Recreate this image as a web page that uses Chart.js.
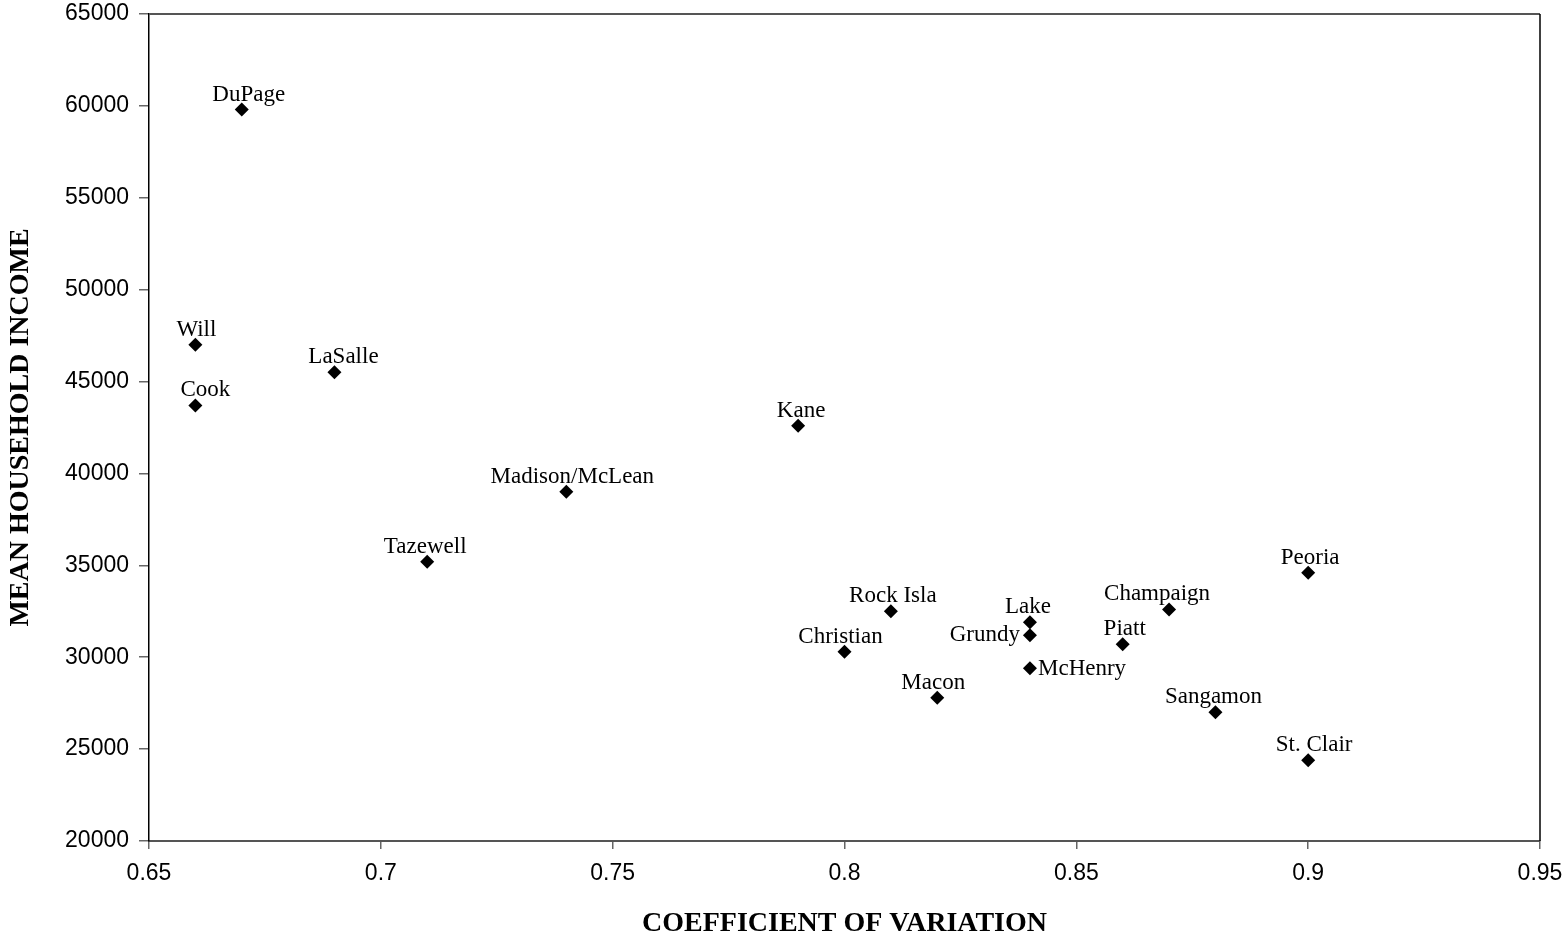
<!DOCTYPE html>
<html>
<head>
<meta charset="utf-8">
<script src="https://cdn.jsdelivr.net/npm/chart.js@4/dist/chart.umd.min.js"></script>
<style>
  html, body { margin: 0; padding: 0; background: #fff; }
  #wrap { width: 1564px; height: 938px; }
</style>
</head>
<body>
<div id="wrap"><canvas id="scatter"></canvas></div>
<script>
// County data
const counties = ['DuPage', 'Will', 'Cook', 'LaSalle', 'Tazewell', 'Madison/McLean', 'Kane',
    'Christian', 'Rock Isla', 'Macon', 'Lake', 'Grundy', 'McHenry', 'Piatt',
    'Champaign', 'Sangamon', 'Peoria', 'St. Clair'];
const coefVariation = [0.67, 0.66, 0.66, 0.69, 0.71, 0.74, 0.79,
    0.80, 0.81, 0.82, 0.84, 0.84, 0.84, 0.86,
    0.87, 0.88, 0.90, 0.90];
const meanIncome = [59800, 47000, 43700, 45500, 35200, 39000, 42600,
    30300, 32500, 27800, 31900, 31200, 29400, 30700,
    32600, 27000, 34600, 24400];
// where the name sits relative to its marker
const labelSide = ['above', 'above', 'above', 'above', 'above', 'above', 'above',
    'above', 'above', 'above', 'above', 'left', 'right', 'above',
    'above', 'above', 'above', 'above'];
// small sideways nudges of the names (px), as in the original figure
const labelNudge = [7, 1, 10, 9, -2, 6, 3, -4, 2, -4, -2, 0, 0, 2, -12, -2, 2, 6];

const xMin = 0.65, xMax = 0.95, xStep = 0.05;
const yMin = 20000, yMax = 65000, yStep = 5000;

const points = coefVariation.map(function(x, i) {
    return { x: x, y: meanIncome[i] };
});

// names next to the markers
const pointLabels = {
    id: 'pointLabels',
    afterDatasetsDraw: function(chart) {
        const ctx = chart.ctx;
        const meta = chart.getDatasetMeta(0);
        ctx.save();
        ctx.font = '23px "Liberation Serif", "Times New Roman", serif';
        ctx.fillStyle = '#000';
        ctx.textBaseline = 'alphabetic';
        meta.data.forEach(function(el, i) {
            const side = labelSide[i];
            if (side === 'left') {
                ctx.textAlign = 'right';
                ctx.fillText(counties[i], el.x - 10, el.y + 6);
            } else if (side === 'right') {
                ctx.textAlign = 'left';
                ctx.fillText(counties[i], el.x + 8, el.y + 7);
            } else {
                ctx.textAlign = 'center';
                ctx.fillText(counties[i], el.x + labelNudge[i], el.y - 9);
            }
        });
        ctx.restore();
    }
};

// top and right edges of the plot box
const plotFrame = {
    id: 'plotFrame',
    afterDraw: function(chart) {
        const a = chart.chartArea;
        const ctx = chart.ctx;
        ctx.save();
        ctx.strokeStyle = '#555';
        ctx.lineWidth = 2;
        ctx.beginPath();
        ctx.moveTo(a.left, a.top);
        ctx.lineTo(a.right, a.top);
        ctx.stroke();
        ctx.strokeStyle = '#000';
        ctx.lineWidth = 1.5;
        ctx.beginPath();
        ctx.moveTo(a.right, a.top);
        ctx.lineTo(a.right, a.bottom);
        ctx.stroke();
        ctx.restore();
    }
};

const ctx = document.getElementById('scatter').getContext('2d');
const chart = new Chart(ctx, {
    type: 'scatter',
    data: {
        datasets: [{
            data: points,
            pointStyle: 'rectRot',
            pointRadius: 7,
            pointHoverRadius: 7,
            backgroundColor: '#000',
            borderColor: '#000',
            borderWidth: 0
        }]
    },
    options: {
        responsive: true,
        maintainAspectRatio: false,
        animation: false,
        events: [],
        layout: { padding: { top: 14, right: 24, left: 0, bottom: 0 } },
        plugins: {
            legend: { display: false },
            tooltip: { enabled: false }
        },
        scales: {
            x: {
                type: 'linear',
                min: xMin,
                max: xMax,
                afterFit: function(scale) {
                    scale.height = 97;
                    scale.paddingLeft = 0;
                    scale.paddingRight = 0;
                },
                ticks: {
                    stepSize: xStep,
                    padding: 11,
                    color: '#000',
                    font: { family: '"Liberation Sans", Arial, sans-serif', size: 23 },
                    callback: function(v) { return String(+v.toFixed(2)); }
                },
                grid: { drawOnChartArea: false, tickLength: 8, color: '#666', lineWidth: 1.5 },
                border: { color: '#555', width: 2 },
                title: {
                    display: true,
                    text: 'COEFFICIENT OF VARIATION',
                    color: '#000',
                    padding: { top: 0, bottom: 0 },
                    font: { family: '"Liberation Serif", "Times New Roman", serif', size: 28, weight: 'bold', lineHeight: 1 }
                }
            },
            y: {
                type: 'linear',
                min: yMin,
                max: yMax,
                afterFit: function(scale) {
                    scale.width = 149;
                    scale.paddingTop = 0;
                    scale.paddingBottom = 0;
                },
                ticks: {
                    stepSize: yStep,
                    padding: 10,
                    color: '#000',
                    font: { family: '"Liberation Sans", Arial, sans-serif', size: 23 },
                    callback: function(v) { return String(v); }
                },
                grid: { drawOnChartArea: false, tickLength: 10, color: '#666', lineWidth: 1.5 },
                border: { color: '#000', width: 1.5 },
                title: {
                    display: true,
                    text: 'MEAN HOUSEHOLD INCOME',
                    color: '#000',
                    padding: { top: 4, bottom: 0 },
                    font: { family: '"Liberation Serif", "Times New Roman", serif', size: 28, weight: 'bold', lineHeight: 1.2 }
                }
            }
        }
    },
    plugins: [pointLabels, plotFrame]
});
</script>
</body>
</html>
